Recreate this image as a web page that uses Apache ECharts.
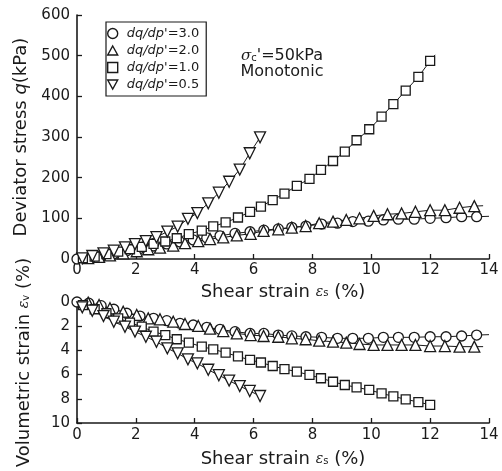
<!DOCTYPE html>
<html><head><meta charset="utf-8">
<script src="https://cdn.jsdelivr.net/npm/echarts@6/dist/echarts.min.js"></script>
<style>html,body{margin:0;padding:0;background:#fff}#c{width:502px;height:471px}</style>
</head><body><div id="c"></div>
<script>
// ---- data ----
const legendNames = ["dq/dp'=3.0", "dq/dp'=2.0", "dq/dp'=1.0", "dq/dp'=0.5"];
const xTicks = [0, 2, 4, 6, 8, 10, 12, 14];

const circX = [0, 0.4, 0.82, 1.25, 1.69, 2.14, 2.6, 3.05, 3.5, 3.95, 4.41, 4.86, 5.37, 5.88, 6.35, 6.84, 7.3, 7.78, 8.31, 8.85, 9.37, 9.9, 10.41, 10.92, 11.46, 12.0, 12.54, 13.07, 13.58];
const circQ = [0, 3, 7, 13, 20, 26, 32, 37, 42, 47, 52, 57, 63, 67, 71, 74, 78, 81, 86, 88, 92, 93, 96, 98, 98, 100, 101.5, 104, 104];
const circV = [0, 0.1, 0.3, 0.6, 0.93, 1.16, 1.35, 1.54, 1.76, 1.9, 2.09, 2.26, 2.45, 2.6, 2.6, 2.73, 2.8, 2.87, 2.92, 3.0, 3.0, 3.0, 2.92, 2.92, 2.92, 2.87, 2.87, 2.81, 2.73];
const circQEnd = [14, 105];
const circVEnd = [14, 2.7];

const triUpX = [0.38, 0.75, 1.12, 1.57, 2.03, 2.42, 2.82, 3.27, 3.67, 4.12, 4.52, 4.97, 5.43, 5.9, 6.34, 6.84, 7.3, 7.77, 8.23, 8.7, 9.15, 9.6, 10.08, 10.55, 11.03, 11.5, 12.0, 12.5, 13.0, 13.5];
const triUpQ = [2, 5, 9, 14, 19, 24, 28, 33, 39, 44, 49, 53, 58, 62, 69, 73, 77, 81, 88, 92, 96, 100, 106, 110, 112, 116, 120, 120, 126, 130];
const triUpV = [0.05, 0.25, 0.52, 0.8, 1.07, 1.35, 1.43, 1.63, 1.82, 1.98, 2.2, 2.4, 2.6, 2.73, 2.81, 2.87, 3.0, 3.08, 3.2, 3.28, 3.36, 3.47, 3.55, 3.55, 3.55, 3.55, 3.64, 3.64, 3.69, 3.69];
const triUpQEnd = [13.8, 131];
const triUpVEnd = [13.8, 3.69];

const sqX = [0.2, 0.6, 1.0, 1.4, 1.8, 2.2, 2.6, 3.0, 3.39, 3.8, 4.24, 4.63, 5.05, 5.47, 5.88, 6.25, 6.65, 7.05, 7.47, 7.9, 8.29, 8.7, 9.1, 9.5, 9.93, 10.35, 10.75, 11.17, 11.6, 12.0];
const sqQ = [2, 6, 12, 18, 24, 30, 37, 43, 51, 61, 70, 80, 90, 102, 116, 129, 145, 161, 180, 197, 219, 241, 264, 292, 319, 350, 381, 414, 448, 487];
const sqV = [0.25, 0.6, 0.93, 1.35, 1.71, 2.04, 2.45, 2.73, 3.08, 3.36, 3.69, 3.91, 4.19, 4.5, 4.79, 5.0, 5.29, 5.54, 5.76, 6.03, 6.3, 6.59, 6.86, 7.05, 7.27, 7.55, 7.8, 8.04, 8.27, 8.5];
const sqQEnd = [12.17, 502];
const sqVEnd = [12.1, 8.55];

const triDnX = [0.18, 0.52, 0.9, 1.25, 1.63, 1.97, 2.34, 2.7, 3.07, 3.42, 3.77, 4.09, 4.46, 4.82, 5.17, 5.53, 5.87, 6.22];
const triDnQ = [1.7, 7.4, 14, 20.4, 28.7, 36.6, 44, 53.6, 67.4, 79.7, 98.6, 113, 137, 163, 190, 220, 260, 299];
const triDnV = [0.44, 0.72, 1.16, 1.63, 2.04, 2.45, 2.87, 3.28, 3.83, 4.24, 4.74, 5.07, 5.6, 6.05, 6.5, 6.95, 7.35, 7.77];

// ---- chart ----
const FONT = '"DejaVu Sans", Arial, sans-serif';
const INK = '#1a1a1a';
const TRI_DN = 'path://M0,0L10,0L5,9Z';
const TRI_UP = 'path://M5,0L10,9L0,9Z';

function pts(xs, ys, end) {
  const d = xs.map((x, i) => [x, ys[i]]);
  if (end) d.push({ value: end, symbol: 'none' });
  return d;
}
function mk(name, symbol, size, xs, ys, end, idx) {
  return {
    type: 'line', name, xAxisIndex: idx, yAxisIndex: idx,
    data: pts(xs, ys, end),
    symbol, symbolSize: size, showAllSymbol: true,
    lineStyle: { color: INK, width: 1 },
    itemStyle: { color: '#fff', borderColor: INK, borderWidth: 1.3 },
    emphasis: { disabled: true }, animation: false, z: 3
  };
}

const axisCommon = {
  axisLine: { show: true, onZero: false, lineStyle: { color: INK, width: 1.6 } },
  axisTick: { show: true, inside: true, length: 5, lineStyle: { color: INK, width: 1.3 } },
  splitLine: { show: false },
  axisLabel: { color: INK, fontSize: 15, fontFamily: FONT },
  nameTextStyle: { color: INK, fontSize: 18, fontFamily: FONT,
    rich: { i: { fontStyle: 'italic', fontSize: 18, fontFamily: FONT, color: INK },
            e: { fontStyle: 'italic', fontSize: 14, fontFamily: 'DejaVu Serif, serif', color: INK },
            s: { fontSize: 10, fontFamily: FONT, color: INK, padding: [4, 0, 0, 0] } } }
};

const chart = echarts.init(document.getElementById('c'), null, { renderer: 'canvas' });
chart.setOption({
  backgroundColor: '#fff',
  animation: false,
  grid: [
    { left: 77, top: 15, width: 412, height: 244 },
    { left: 77, top: 302, width: 412, height: 121 }
  ],
  xAxis: [
    Object.assign({}, axisCommon, { gridIndex: 0, type: 'value', min: xTicks[0], max: xTicks[xTicks.length - 1], interval: 2,
      axisLabel: Object.assign({}, axisCommon.axisLabel, { margin: 4 }),
      name: 'Shear strain {e|ε}{s|s} (%)', nameLocation: 'middle', nameGap: 11 }),
    Object.assign({}, axisCommon, { gridIndex: 1, type: 'value', min: xTicks[0], max: xTicks[xTicks.length - 1], interval: 2,
      axisLabel: Object.assign({}, axisCommon.axisLabel, { margin: 5 }),
      name: 'Shear strain {e|ε}{s|s} (%)', nameLocation: 'middle', nameGap: 27 })
  ],
  yAxis: [
    Object.assign({}, axisCommon, { gridIndex: 0, type: 'value', min: 0, max: 600, interval: 100,
      axisLabel: Object.assign({}, axisCommon.axisLabel, { margin: 7 }),
      name: 'Deviator stress {i|q}(kPa)', nameLocation: 'middle', nameGap: 44 }),
    Object.assign({}, axisCommon, { gridIndex: 1, type: 'value', min: 0, max: 10, interval: 2, inverse: true,
      axisLabel: Object.assign({}, axisCommon.axisLabel, { margin: 7 }),
      name: 'Volumetric strain {e|ε}{s|v} (%)', nameLocation: 'middle', nameGap: 44 })
  ],
  legend: {
    left: 106, top: 22, orient: 'vertical',
    padding: [4, 7, 4, 1], itemGap: 2, itemWidth: 10, itemHeight: 10,
    borderColor: INK, borderWidth: 1.2, backgroundColor: '#fff',
    selectedMode: false,
    data: [
      { name: legendNames[0], icon: 'circle' },
      { name: legendNames[1], icon: TRI_UP },
      { name: legendNames[2], icon: 'rect' },
      { name: legendNames[3], icon: TRI_DN }
    ],
    itemStyle: { color: '#fff', borderColor: INK, borderWidth: 1.4 },
    formatter: n => '{i|' + n.slice(0, 6) + '}' + n.slice(6),
    textStyle: { color: INK, fontSize: 13, fontFamily: FONT, lineHeight: 15,
      rich: { i: { fontStyle: 'italic', fontSize: 13, fontFamily: FONT, color: INK, padding: [0, 0, 0, 4], lineHeight: 15 } } }
  },
  graphic: [
    { type: 'text', x: 282, y: 56, z: 10,
      style: { text: "{g|σ}{c|c}'=50kPa", align: 'center', verticalAlign: 'middle', fill: INK,
        font: '16px ' + FONT,
        rich: { g: { fontStyle: 'italic', fontSize: 15, fontFamily: 'DejaVu Serif, serif', fill: INK },
                c: { fontSize: 10, fontFamily: FONT, fill: INK, padding: [5, 0, 0, 0] } } } },
    { type: 'text', x: 282, y: 72, z: 10,
      style: { text: 'Monotonic', align: 'center', verticalAlign: 'middle', fill: INK, font: '16px ' + FONT } }
  ],
  series: [
    mk(legendNames[0], 'circle', 10, circX, circQ, circQEnd, 0),
    mk(legendNames[1], TRI_UP, 11, triUpX, triUpQ, triUpQEnd, 0),
    mk(legendNames[2], 'rect', 9, sqX, sqQ, sqQEnd, 0),
    mk(legendNames[3], TRI_DN, 11, triDnX, triDnQ, null, 0),
    mk(legendNames[0], 'circle', 10, circX, circV, circVEnd, 1),
    mk(legendNames[1], TRI_UP, 11, triUpX, triUpV, triUpVEnd, 1),
    mk(legendNames[2], 'rect', 9, sqX, sqV, sqVEnd, 1),
    mk(legendNames[3], TRI_DN, 11, triDnX, triDnV, null, 1)
  ]
});
</script></body></html>
